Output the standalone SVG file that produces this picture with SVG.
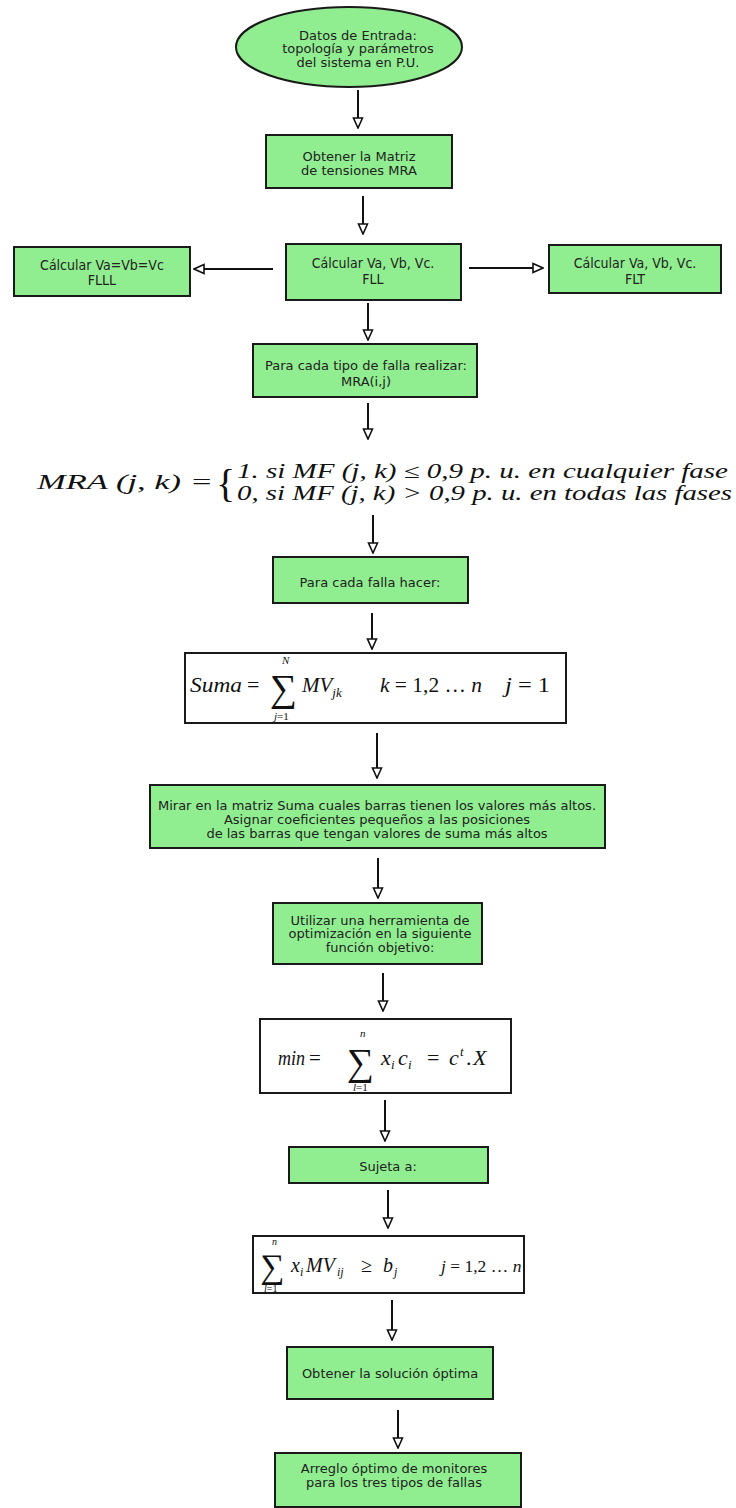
<svg xmlns="http://www.w3.org/2000/svg" width="736" height="1508" viewBox="0 0 736 1508">
<defs>
<marker id="ah" viewBox="0 0 12 12" refX="11" refY="6" markerWidth="12" markerHeight="12" markerUnits="userSpaceOnUse" orient="auto">
<path d="M1,1.5 L11,6 L1,10.5 Z" fill="#fff" stroke="#111" stroke-width="1.6" stroke-linejoin="miter"/>
</marker>
<style>
.box{fill:#90ee90;stroke:#1a1a1a;stroke-width:2}
.wbox{fill:#fff;stroke:#1a1a1a;stroke-width:2}
.t{font-family:"DejaVu Sans",Verdana,sans-serif;font-size:13px;fill:#222;text-anchor:middle}
.tc{font-family:"DejaVu Sans Condensed","DejaVu Sans",sans-serif;font-size:14px;fill:#222;text-anchor:middle}
.m{font-family:"Liberation Serif",serif;font-style:italic;fill:#111}
.mu{font-family:"Liberation Serif",serif;font-style:normal;fill:#111}
.c line{stroke:#111;stroke-width:2;marker-end:url(#ah)}
</style>
</defs>
<rect width="736" height="1508" fill="#fff"/>

<g id="n1">
<ellipse cx="349" cy="47" rx="113" ry="40" class="box"/>
<text class="t" x="358" y="40">Datos de Entrada:</text>
<text class="t" x="358" y="53">topología y parámetros</text>
<text class="t" x="358" y="67">del sistema en P.U.</text>
</g>

<g id="n2">
<rect x="266" y="135" width="186" height="53" class="box"/>
<text class="t" x="359" y="161">Obtener la Matriz</text>
<text class="t" x="359" y="175">de tensiones MRA</text>
</g>

<g id="n3">
<rect x="14" y="247" width="176" height="49" class="box"/>
<text class="tc" x="102" y="270">Cálcular Va=Vb=Vc</text>
<text class="tc" x="102" y="285">FLLL</text>
</g>

<g id="n4">
<rect x="286" y="244" width="175" height="56" class="box"/>
<text class="tc" x="373" y="268">Cálcular Va, Vb, Vc.</text>
<text class="tc" x="373" y="284">FLL</text>
</g>

<g id="n5">
<rect x="549" y="245" width="172" height="48" class="box"/>
<text class="tc" x="635" y="268">Cálcular Va, Vb, Vc.</text>
<text class="tc" x="635" y="284">FLT</text>
</g>

<g id="n6">
<rect x="253" y="344" width="224" height="53" class="box"/>
<text class="t" x="366" y="370">Para cada tipo de falla realizar:</text>
<text class="t" x="366" y="386">MRA(i,j)</text>
</g>

<g id="n7">
<text class="m" x="37" y="489" font-size="21" textLength="176" lengthAdjust="spacingAndGlyphs">MRA (j, k) =</text>
<text class="mu" x="216" y="497" font-size="40">{</text>
<text class="m" x="237" y="478" font-size="20" textLength="491" lengthAdjust="spacingAndGlyphs">1. si MF (j, k) ≤ 0,9 p. u. en cualquier fase</text>
<text class="m" x="237" y="500" font-size="20" textLength="495" lengthAdjust="spacingAndGlyphs">0, si MF (j, k) &gt; 0,9 p. u. en todas las fases</text>
</g>

<g id="n8">
<rect x="273" y="557" width="195" height="46" class="box"/>
<text class="t" x="370" y="587">Para cada falla hacer:</text>
</g>

<g id="n9">
<rect x="185" y="653" width="381" height="70" class="wbox"/>
<text class="m" x="190" y="692" font-size="22" textLength="52" lengthAdjust="spacingAndGlyphs">Suma</text>
<text class="mu" x="247" y="692" font-size="22">=</text>
<text class="mu" x="270" y="701" font-size="38">∑</text>
<text class="m" x="282" y="664" font-size="11">N</text>
<text class="m" x="274" y="720" font-size="11">j<tspan class="mu">=1</tspan></text>
<text class="m" x="302" y="692" font-size="21">MV<tspan font-size="13" dy="5">jk</tspan></text>
<text class="m" x="380" y="692" font-size="21" textLength="102" lengthAdjust="spacingAndGlyphs">k <tspan class="mu">= 1,2 … </tspan>n</text>
<text class="m" x="505" y="692" font-size="21" textLength="45" lengthAdjust="spacingAndGlyphs">j <tspan class="mu">= 1</tspan></text>
</g>

<g id="n10">
<rect x="150" y="785" width="455" height="63" class="box"/>
<text class="t" x="377" y="810">Mirar en la matriz Suma cuales barras tienen los valores más altos.</text>
<text class="t" x="377" y="824">Asignar coeficientes pequeños a las posiciones</text>
<text class="t" x="377" y="838">de las barras que tengan valores de suma más altos</text>
</g>

<g id="n11">
<rect x="273" y="903" width="209" height="61" class="box"/>
<text class="t" x="380" y="925">Utilizar una herramienta de</text>
<text class="t" x="380" y="938">optimización en la siguiente</text>
<text class="t" x="380" y="952">función objetivo:</text>
</g>

<g id="n12">
<rect x="260" y="1019" width="251" height="74" class="wbox"/>
<text class="m" x="278" y="1065" font-size="21" textLength="27" lengthAdjust="spacingAndGlyphs">min</text>
<text class="mu" x="309" y="1065" font-size="21">=</text>
<text class="mu" x="347" y="1075" font-size="38">∑</text>
<text class="m" x="360" y="1037" font-size="11">n</text>
<text class="m" x="353" y="1091" font-size="11">l<tspan class="mu">=1</tspan></text>
<text class="m" y="1065" font-size="22"><tspan x="381">x</tspan><tspan x="391" dy="4" font-size="13">i</tspan><tspan x="398" dy="-4">c</tspan><tspan x="408" dy="4" font-size="13">i</tspan></text>
<text class="mu" x="427" y="1065" font-size="22">=</text>
<text class="m" y="1065" font-size="22"><tspan x="449">c</tspan><tspan x="460" dy="-9" font-size="13">t</tspan><tspan x="466" dy="9" class="mu">.</tspan><tspan x="473">X</tspan></text>
</g>

<g id="n13">
<rect x="289" y="1147" width="199" height="36" class="box"/>
<text class="t" x="388" y="1171">Sujeta a:</text>
</g>

<g id="n14">
<rect x="253" y="1236" width="271" height="57" class="wbox"/>
<text class="mu" x="260" y="1278" font-size="34">∑</text>
<text class="m" x="272" y="1245" font-size="10">n</text>
<text class="m" x="264" y="1292" font-size="10">l<tspan class="mu">=1</tspan></text>
<text class="m" y="1272" font-size="20"><tspan x="291">x</tspan><tspan x="300" dy="4" font-size="12">i</tspan><tspan x="306" dy="-4">MV</tspan><tspan x="337" dy="4" font-size="12">ij</tspan></text>
<text class="mu" x="361" y="1272" font-size="20">≥</text>
<text class="m" y="1272" font-size="20"><tspan x="383">b</tspan><tspan x="394" dy="4" font-size="12">j</tspan></text>
<text class="m" x="441" y="1272" font-size="17.5">j <tspan class="mu">= 1,2 … </tspan>n</text>
</g>

<g id="n15">
<rect x="287" y="1347" width="206" height="52" class="box"/>
<text class="t" x="390" y="1378">Obtener la solución óptima</text>
</g>

<g id="n16">
<rect x="275" y="1453" width="246" height="54" class="box"/>
<text class="t" x="394" y="1473">Arreglo óptimo de monitores</text>
<text class="t" x="394" y="1487">para los tres  tipos de fallas</text>
</g>

<g id="connectors" class="c">
<line x1="358" y1="90" x2="358" y2="128"/>
<line x1="363" y1="196" x2="363" y2="234"/>
<line x1="273" y1="269" x2="194" y2="269"/>
<line x1="469" y1="268" x2="543" y2="268"/>
<line x1="368" y1="303" x2="368" y2="340"/>
<line x1="368" y1="403" x2="368" y2="439"/>
<line x1="373" y1="515" x2="373" y2="553"/>
<line x1="372" y1="613" x2="372" y2="649"/>
<line x1="377" y1="733" x2="377" y2="778"/>
<line x1="378" y1="858" x2="378" y2="898"/>
<line x1="383" y1="973" x2="383" y2="1011"/>
<line x1="385" y1="1100" x2="385" y2="1141"/>
<line x1="388" y1="1190" x2="388" y2="1228"/>
<line x1="392" y1="1300" x2="392" y2="1340"/>
<line x1="398" y1="1410" x2="398" y2="1448"/>
</g>
</svg>
